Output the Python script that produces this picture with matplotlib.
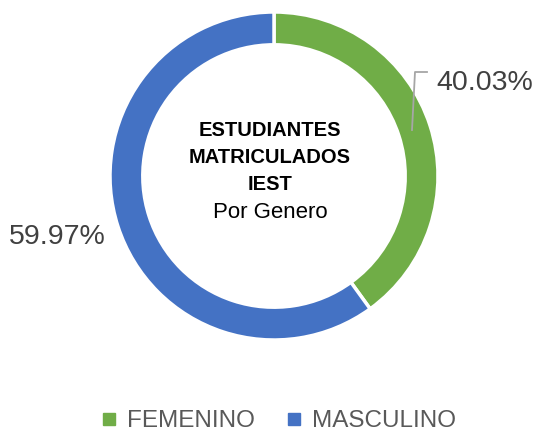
import matplotlib.pyplot as plt
from matplotlib.lines import Line2D

# Data
labels = ['FEMENINO', 'MASCULINO']
values = [40.03, 59.97]
colors = ['#70AD47', '#4472C4']
pct_labels = ['40.03%', '59.97%']

W, H = 537, 432
fig = plt.figure(figsize=(W / 100, H / 100), dpi=100)
ax = fig.add_axes([0, 0, 1, 1])

cx, cy, r = 274, H - 176, 164
ax.pie(values, colors=colors, startangle=90, counterclock=False,
       center=(cx, cy), radius=r, frame=True,
       wedgeprops=dict(width=r * 0.2, edgecolor='white', linewidth=2.5))
ax.set_xlim(0, W)
ax.set_ylim(0, H)
ax.set_aspect('equal')
ax.axis('off')

txt = '#404040'

# percentage labels
ax.plot([412, 415, 427], [H - 130, H - 72, H - 72], color='#A6A6A6', lw=1.3)
ax.text(436, H - 83, pct_labels[0], fontsize=20.5, color=txt,
        family='Liberation Sans', ha='left', va='center')
ax.text(9, H - 237, pct_labels[1], fontsize=20.5, color=txt,
        family='Liberation Sans', ha='left', va='center')

# center title
for i, line in enumerate(['ESTUDIANTES', 'MATRICULADOS', 'IEST']):
    ax.text(cx - 4, H - 131 - i * 26.5, line, fontsize=14.5, fontweight='bold',
            family='Liberation Sans', ha='center', va='center', color='black')
ax.text(cx - 4, H - 212, 'Por Genero', fontsize=16, family='Liberation Sans',
        ha='center', va='center', color='black')

# legend
handles = [Line2D([], [], marker='s', color=c, linestyle='none', markersize=8)
           for c in colors]
leg = fig.legend(handles, labels, loc='center', bbox_to_anchor=(278 / W, 1 - 421 / H),
                 ncol=2, frameon=False, handlelength=0.8, handletextpad=0.35,
                 columnspacing=1.2, prop={'family': 'Liberation Sans', 'size': 17.5})
for t in leg.get_texts():
    t.set_color('#595959')

fig.savefig('out.png', dpi=100, facecolor='white')
